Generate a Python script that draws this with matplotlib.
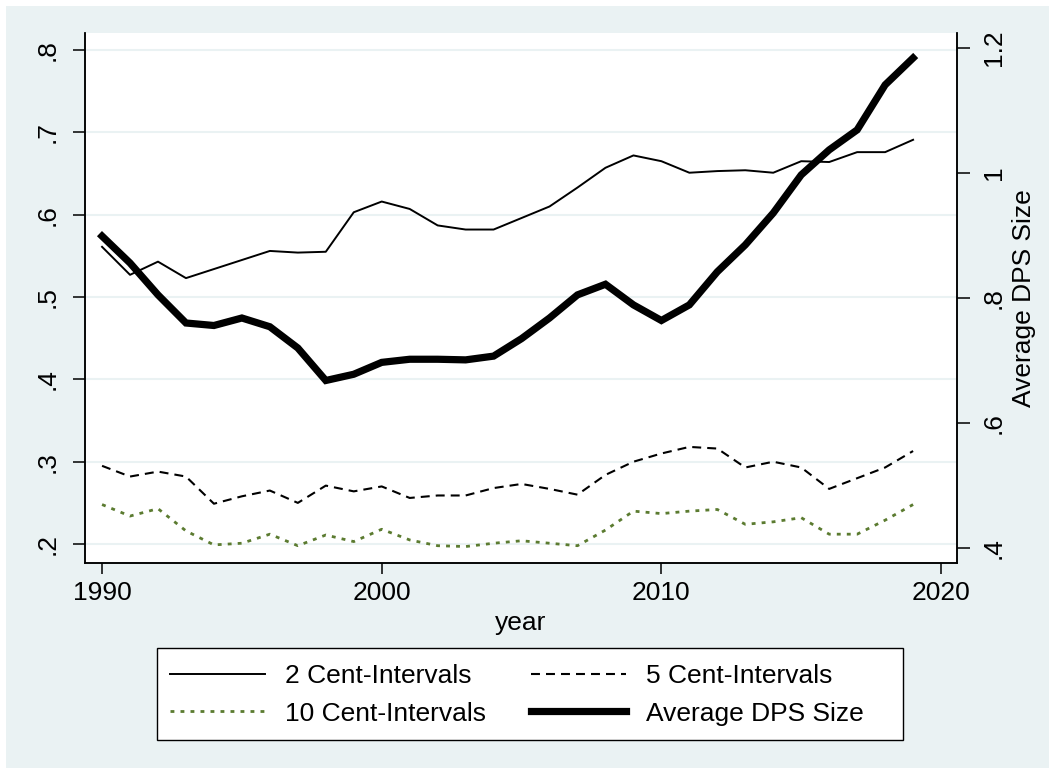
import matplotlib.pyplot as plt
from matplotlib.patches import Rectangle

plt.rcParams['font.family'] = ['Liberation Sans', 'DejaVu Sans']

# data
years = list(range(1990, 2020))
cent2 = [.561, .527, .543, .523, .534, .545, .556, .554, .555, .603,
         .616, .607, .587, .582, .582, .596, .610, .633, .657, .672,
         .665, .651, .653, .654, .651, .665, .664, .676, .676, .691]
cent5 = [.295, .282, .288, .282, .249, .258, .265, .250, .271, .264,
         .270, .256, .259, .259, .268, .273, .267, .260, .284, .300,
         .310, .318, .316, .293, .300, .293, .267, .280, .293, .313]
cent10 = [.248, .234, .243, .216, .199, .201, .212, .198, .211, .203,
          .218, .205, .198, .197, .201, .204, .201, .198, .217, .240,
          .237, .240, .242, .224, .227, .232, .212, .212, .229, .248]
dps = [.899, .856, .805, .760, .756, .768, .754, .720, .668, .678,
       .697, .702, .702, .701, .707, .735, .768, .805, .822, .789,
       .764, .789, .842, .885, .936, .997, 1.037, 1.069, 1.141, 1.184]

left_ticks = [.2, .3, .4, .5, .6, .7, .8]
left_labels = ['.2', '.3', '.4', '.5', '.6', '.7', '.8']
right_ticks = [.4, .6, .8, 1.0, 1.2]
right_labels = ['.4', '.6', '.8', '1', '1.2']
x_ticks = [1990, 2000, 2010, 2020]

bg = '#eaf2f3'
green = '#5b7b30'
W, H = 1049, 768

fig = plt.figure(figsize=(W / 100, H / 100), dpi=100)
fig.patch.set_facecolor('white')
fig.patches.append(Rectangle((6 / W, 0), 1, 1 - 6 / H, transform=fig.transFigure,
                             facecolor=bg, edgecolor='none', zorder=-10))
# legend box (stata style, drawn separately)
fig.patches.append(Rectangle((157 / W, 1 - 740 / H), 746 / W, 92 / H, transform=fig.transFigure,
                             facecolor='white', edgecolor='black', lw=1.0, zorder=-5))

ax = fig.add_axes([85 / W, 1 - 563 / H, 872 / W, 530 / H])
ax.set_facecolor('white')
ax2 = ax.twinx()

l1, = ax.plot(years, cent2, color='black', lw=1.4, label='2 Cent-Intervals')
l2, = ax.plot(years, cent5, color='black', lw=1.5, dashes=(4.3, 2.9), label='5 Cent-Intervals')
l3, = ax.plot(years, cent10, color=green, lw=2.0, dashes=(1.4, 2.2), label='10 Cent-Intervals')
l4, = ax2.plot(years, dps, color='black', lw=5.2, solid_joinstyle='miter', label='Average DPS Size')

ax.set_xlim(1989.39, 2020.57)
ax.set_ylim(0.177, 0.8207)
ax2.set_ylim(0.376, 1.224)

for y in left_ticks:
    ax.axhline(y, color=bg, lw=1.5, zorder=0)

ax.set_yticks(left_ticks)
ax.set_yticklabels(left_labels, rotation=90, va='center', fontsize=19)
ax2.set_yticks(right_ticks)
ax2.set_yticklabels(right_labels, rotation=90, va='center', fontsize=19)
ax.set_xticks(x_ticks)
ax.set_xticklabels([str(x) for x in x_ticks], fontsize=19)
ax.set_xlabel('year', fontsize=19, labelpad=4)
ax2.set_ylabel('Average DPS Size', fontsize=19, labelpad=4)

ax.tick_params(axis='y', length=9, width=1.1, pad=9)
ax2.tick_params(axis='y', length=9, width=1.1, pad=9)
ax.tick_params(axis='x', length=8, width=1.1, pad=5)

for a in (ax, ax2):
    a.spines['top'].set_visible(False)
    for s in ('left', 'right', 'bottom'):
        a.spines[s].set_linewidth(1.1)

leg = fig.legend([l1, l3, l2, l4],
                 ['2 Cent-Intervals', '10 Cent-Intervals', '5 Cent-Intervals', 'Average DPS Size'],
                 ncol=2, loc='center', bbox_to_anchor=(517 / W, 1 - 695 / H),
                 fontsize=19, handlelength=3.6, handletextpad=0.76, columnspacing=1.7,
                 labelspacing=0.5, borderpad=0, frameon=False)

fig.savefig('out.png', dpi=100, facecolor=fig.get_facecolor())
